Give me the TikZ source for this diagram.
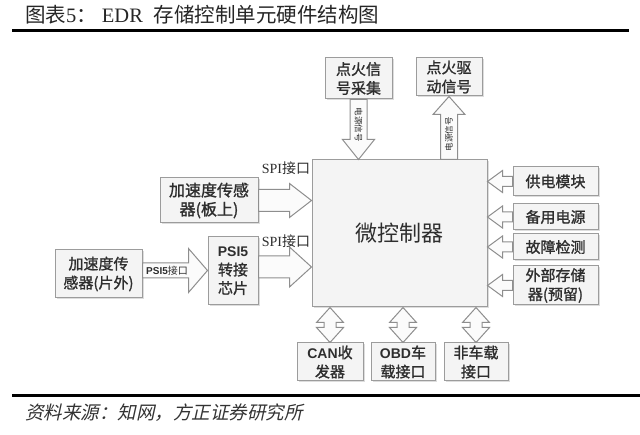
\documentclass[tikz,border=0pt]{standalone}
\usepackage{fontspec}
\setmainfont{Noto Sans CJK SC}
\newfontfamily\serif{Liberation Serif}
\newfontfamily\lsans{Liberation Sans}
\newfontfamily\bx[FakeBold=1.3]{Noto Sans CJK SC}
\newfontfamily\cjkit[FakeSlant=0.22]{Noto Sans CJK SC}
\usetikzlibrary{calc,shadows}
\definecolor{boxline}{HTML}{9C9C9C}
\definecolor{boxfill}{HTML}{F4F4F4}
\definecolor{arrline}{HTML}{8E8E8E}
\definecolor{arrfill}{HTML}{FBFBFB}
\definecolor{txt}{HTML}{2E2E2E}
\tikzset{
  box/.style={draw=boxline, fill=boxfill, line width=1pt, inner sep=0pt,
    align=center, text=txt, font=\bx\fontsize{15}{19}\selectfont,
    drop shadow={shadow xshift=1.5pt, shadow yshift=-1.5pt, fill=black!22, opacity=0.6}},
  arrst/.style={draw=arrline, fill=arrfill, line width=1pt, line join=miter},
  lbl/.style={text=txt, inner sep=0pt},
}
% horizontal hollow arrow: from, to(tip), shaft half, head half, head length, dir (1 right, -1 left)
\newcommand\harr[6]{%
  \draw[arrst] let \p1=(#1), \p2=(#2) in
   (\x1,{\y1+#3pt}) -- ({\x2-(#6)*#5pt},{\y1+#3pt}) -- ({\x2-(#6)*#5pt},{\y1+#4pt})
   -- (\x2,\y1) -- ({\x2-(#6)*#5pt},{\y1-#4pt}) -- ({\x2-(#6)*#5pt},{\y1-#3pt})
   -- (\x1,{\y1-#3pt}) -- cycle;}
% vertical hollow arrow: from, to(tip), shaft half, head half, head length, dir (1 up, -1 down)
\newcommand\varr[6]{%
  \draw[arrst] let \p1=(#1), \p2=(#2) in
   ({\x1+#3pt},\y1) -- ({\x1+#3pt},{\y2-(#6)*#5pt}) -- ({\x1+#4pt},{\y2-(#6)*#5pt})
   -- (\x1,\y2) -- ({\x1-#4pt},{\y2-(#6)*#5pt}) -- ({\x1-#3pt},{\y2-(#6)*#5pt})
   -- ({\x1-#3pt},\y1) -- cycle;}
% vertical double arrow: top tip, bottom tip, shaft half, head half, head length
\newcommand\dvarr[5]{%
  \draw[arrst] let \p1=(#1), \p2=(#2) in
   (\x1,\y1) -- ({\x1+#4pt},{\y1-#5pt}) -- ({\x1+#3pt},{\y1-#5pt})
   -- ({\x1+#3pt},{\y2+#5pt}) -- ({\x1+#4pt},{\y2+#5pt}) -- (\x1,\y2)
   -- ({\x1-#4pt},{\y2+#5pt}) -- ({\x1-#3pt},{\y2+#5pt})
   -- ({\x1-#3pt},{\y1-#5pt}) -- ({\x1-#4pt},{\y1-#5pt}) -- cycle;}
\begin{document}
\begin{tikzpicture}[x=1pt, y=-1pt]
\useasboundingbox[fill=white] (0,0) rectangle (640,435);

% title and rules
\node[lbl, anchor=west, font=\fontsize{20.5}{20.5}\selectfont, text=black!85] (title) at (25,15)
  {图表{\serif 5}：\hspace{5pt}{\serif EDR}\hspace{11pt}存储控制单元硬件结构图};
\coordinate (r1a) at (12,31); \coordinate (r1b) at (629,31);
\draw[line width=3pt] (r1a) -- (r1b);
\coordinate (r2a) at (12,396); \coordinate (r2b) at (640,396);
\draw[line width=3pt] (r2a) -- (r2b);
\node[lbl, anchor=west, font=\cjkit\fontsize{18.5}{18.5}\selectfont, text=black!80] (src) at (25,413)
  {资料来源：知网，方正证券研究所};

% boxes
\node[box, minimum width=175pt, minimum height=147pt, font=\fontsize{22}{22}\selectfont] (mc) at (399.5,233.5) {微控制器};
\node[box, minimum width=67pt, minimum height=41pt] (ig) at (358.5,78.5) {点火信\\号采集};
\node[box, minimum width=66pt, minimum height=38pt] (id) at (449,77) {点火驱\\动信号};
\node[box, minimum width=98pt, minimum height=45pt, font=\bx\fontsize{16}{19}\selectfont] (acc1) at (209,200.5) {加速度传感\\器(板上)};
\node[box, minimum width=87pt, minimum height=48pt] (acc2) at (98.5,274) {加速度传\\感器(片外)};
\node[box, minimum width=50pt, minimum height=68pt, font=\bx\fontsize{15}{18.5}\selectfont] (psi) at (233,271) {{\lsans\bfseries\fontsize{14}{18.5}\selectfont PSI5}\\转接\\芯片};
\node[box, minimum width=85pt, minimum height=29pt] (p1) at (555.5,181.5) {供电模块};
\node[box, minimum width=85pt, minimum height=26pt] (p2) at (555.5,217) {备用电源};
\node[box, minimum width=85pt, minimum height=26pt] (p3) at (555.5,247) {故障检测};
\node[box, minimum width=85pt, minimum height=39pt] (p4) at (555.5,285.5) {外部存储\\器(预留)};
\node[box, minimum width=66pt, minimum height=38pt] (b1) at (330,362) {{\lsans\bfseries\fontsize{14}{19}\selectfont CAN}收\\发器};
\node[box, minimum width=64pt, minimum height=38pt] (b2) at (403,362) {{\lsans\bfseries\fontsize{14}{19}\selectfont OBD}车\\载接口};
\node[box, minimum width=64pt, minimum height=38pt] (b3) at (476,362) {非车载\\接口};

% top vertical arrows
\varr{ig.south}{ig.south |- mc.north}{8.5}{16}{20}{-1}
\node[lbl, rotate=-90, font=\fontsize{8.5}{8.5}\selectfont] (l1) at ($(ig.south)!0.42!(ig.south |- mc.north)$) {电源信号};
\varr{mc.north -| id.south}{id.south}{8.5}{16}{18}{1}
\node[lbl, rotate=90, font=\fontsize{8.5}{8.5}\selectfont] (l2) at ($(id.south)!0.6!(id.south |- mc.north)$) {电源信号};

% SPI arrows
\harr{acc1.east}{mc.west |- acc1.east}{11}{17}{22}{1}
\node[lbl, font=\fontsize{14}{14}\selectfont] (spi1) at (286,168) {{\serif SPI}接口};
\coordinate (psiout) at ($(psi.east)+(0,-4)$);
\harr{psiout}{mc.west |- psiout}{11}{20}{22}{1}
\node[lbl, font=\fontsize{14}{14}\selectfont] (spi2) at (286,241) {{\serif SPI}接口};

% PSI5 arrow
\coordinate (accout) at ($(acc2.east)+(0,-3.5)$);
\harr{accout}{psi.west |- accout}{7.5}{22}{19}{1}
\node[lbl, font=\fontsize{10}{10}\selectfont] (psil) at (167,270.5) {{\lsans\bfseries PSI5}接口};

% right arrows
\foreach \b in {p1,p2,p3,p4}{
  \harr{\b.west}{mc.east |- \b.west}{5}{11}{15}{-1}
}

% bottom double arrows
\foreach \b in {b1,b2,b3}{
  \dvarr{mc.south -| \b.north}{\b.north}{6}{13.5}{15}
}
\end{tikzpicture}
\end{document}
